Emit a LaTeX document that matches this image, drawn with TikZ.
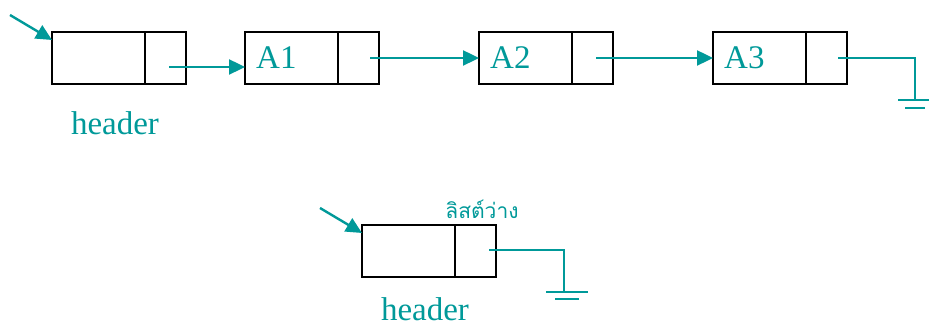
\documentclass[tikz,border=0pt]{standalone}
\usepackage{fontspec}
\setmainfont{Liberation Serif}
\newfontfamily\thaifont[Script=Thai]{Loma}
\usetikzlibrary{arrows.meta,calc}
\definecolor{tealc}{RGB}{0,153,153}
\begin{document}
\begin{tikzpicture}[x=1pt,y=-1pt,
  cellbox/.style={draw=black, line width=2.4pt, minimum height=52pt, inner sep=0pt, outer sep=0pt, anchor=north west},
  datacell/.style={cellbox, minimum width=93pt},
  ptrcell/.style={cellbox, minimum width=41pt},
  celltext/.style={text=tealc, font=\fontsize{33}{38}\selectfont, inner sep=0pt, anchor=west},
  lbl/.style={text=tealc, font=\fontsize{33}{38}\selectfont, inner sep=0pt, anchor=base},
  link/.style={draw=tealc, line width=2.4pt, -{Triangle[length=16pt,width=15pt]}},
  gline/.style={draw=tealc, line width=2.4pt}
]
\useasboundingbox (0,0) rectangle (929,328);
% top row
\node[datacell] (h) at (52,32) {};
\node[ptrcell] (hp) at (h.north east) {};
\node[datacell] (a1) at (245,32) {};
\node[ptrcell] (a1p) at (a1.north east) {};
\node[datacell] (a2) at (479,32) {};
\node[ptrcell] (a2p) at (a2.north east) {};
\node[datacell] (a3) at (713,32) {};
\node[ptrcell] (a3p) at (a3.north east) {};
\node[celltext] (t1) at ($(a1.west)+(11,0)$) {A1};
\node[celltext] (t2) at ($(a2.west)+(11,0)$) {A2};
\node[celltext] (t3) at ($(a3.west)+(11,0)$) {A3};
\node[lbl] (hl) at (115,135) {header};
% pointers
\coordinate (in0) at (10,15);
\draw[link] (in0) -- ($(h.north west)+(0,8)$);
\coordinate (s0) at ($(hp.west)+(24,9)$);
\draw[link] (s0) -- (s0 -| a1.west);
\coordinate (s1) at ($(a1p.west)+(32,0)$);
\draw[link] (s1) -- (a2.west);
\coordinate (s2) at ($(a2p.west)+(24,0)$);
\draw[link] (s2) -- (a3.west);
\coordinate (s3) at ($(a3p.west)+(32,0)$);
\coordinate (g1) at (915,100);
\draw[gline] (s3) -| (g1);
\draw[gline] (898,100) -- (932,100);
\draw[gline] (905,108) -- (925,108);
% bottom
\node[datacell] (e) at (362,225) {};
\node[ptrcell] (ep) at (e.north east) {};
\node[lbl] (el) at (425,321) {header};
\node[text=tealc, inner sep=0pt, anchor=base, font=\thaifont\fontsize{21}{26}\selectfont] (th) at (482,219) {ลิสต์ว่าง};
\coordinate (in1) at (320,208);
\draw[link] (in1) -- ($(e.north west)+(0,8)$);
\coordinate (s4) at ($(ep.west)+(34,-1)$);
\coordinate (g2) at (564,292);
\draw[gline] (s4) -| (g2);
\draw[gline] (546,292) -- (588,292);
\draw[gline] (555,299) -- (579,299);
\end{tikzpicture}
\end{document}
